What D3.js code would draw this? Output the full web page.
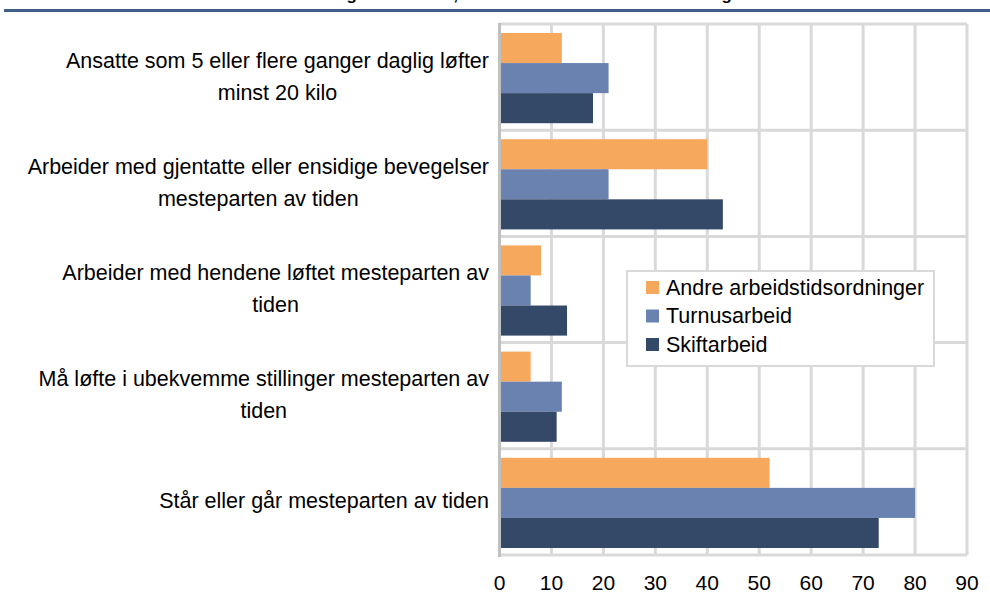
<!DOCTYPE html>
<meta charset="utf-8">
<title>Belastninger etter arbeidstidsordning</title>
<script src="https://cdn.jsdelivr.net/npm/d3@7"></script>
<style>
    body { margin: 0; background: #fff; }
    svg { display: block; font-family: Arial, "Liberation Sans", sans-serif; }
</style>
<body>
<script>
    // categories, top to bottom, lines as in the original wrapping
    var categories = [
        ["Ansatte som 5 eller flere ganger daglig løfter", "minst 20 kilo"],
        ["Arbeider med gjentatte eller ensidige bevegelser", "mesteparten av tiden"],
        ["Arbeider med hendene løftet mesteparten av", "tiden"],
        ["Må løfte i ubekvemme stillinger mesteparten av", "tiden"],
        ["Står eller går mesteparten av tiden"]
    ];
    var seriesNames = ["Andre arbeidstidsordninger", "Turnusarbeid", "Skiftarbeid"];
    var andre  = [12, 40, 8, 6, 52];
    var turnus = [21, 21, 6, 12, 80];
    var skift  = [18, 43, 13, 11, 73];
    var ticks = [0, 10, 20, 30, 40, 50, 60, 70, 80, 90];
    var colors = ["#f6a95d", "#6a82b0", "#344868"];

    var W = 990, H = 596;
    var svg = d3.select("body").append("svg").attr("width", W).attr("height", H);

    // title runs off the top edge in the original, only the descenders show
    svg.append("text")
        .attr("x", 270).attr("y", -0.5)
        .attr("font-size", 17).attr("font-weight", "bold")
        .text("Belastninger i arbeidet, etter ansattes arbeidstidsordning");
    svg.append("rect").attr("x", 4).attr("y", 9).attr("width", W - 4).attr("height", 3)
        .attr("fill", "#3f5e88");

    var keys = categories.map(function (c, i) { return i; });
    var x = d3.scaleLinear().domain([0, 90]).range([499.5, 967]);
    var y = d3.scaleBand().domain(keys).range([24, 555]);
    var sub = d3.scaleBand().domain(d3.range(3)).range([9, y.bandwidth() - 7]);

    var grid = svg.append("g");
    // horizontal grid lines at band edges
    grid.selectAll("line.h")
        .data(keys.concat([keys.length]))
        .enter().append("line")
        .attr("x1", x(0)).attr("x2", x(90))
        .attr("y1", function (d) { return 24 + d * y.step(); })
        .attr("y2", function (d) { return 24 + d * y.step(); })
        .attr("stroke", "#d9d9d9").attr("stroke-width", 3);
    // vertical grid lines
    grid.selectAll("line.v")
        .data(ticks.slice(1))
        .enter().append("line")
        .attr("x1", function (d) { return x(d); }).attr("x2", function (d) { return x(d); })
        .attr("y1", 24).attr("y2", 555)
        .attr("stroke", "#d9d9d9").attr("stroke-width", 3);

    var data = [andre, turnus, skift];
    var groups = svg.selectAll("g.series")
        .data(data)
        .enter().append("g")
        .attr("fill", function (d, i) { return colors[i]; });
    groups.each(function (vals, s) {
        d3.select(this).selectAll("rect")
            .data(vals)
            .enter().append("rect")
            .attr("x", x(0) + 1.5)
            .attr("y", function (d, i) { return y(i) + sub(s); })
            .attr("height", sub.bandwidth())
            .attr("width", function (d) { return x(d) - x(0) - 1.5; });
    });

    // left axis line
    svg.append("line")
        .attr("x1", x(0)).attr("x2", x(0)).attr("y1", 23).attr("y2", 557)
        .attr("stroke", "#c0c0c0").attr("stroke-width", 3);

    // x tick labels
    svg.append("g").selectAll("text")
        .data(ticks)
        .enter().append("text")
        .attr("x", function (d) { return x(d); })
        .attr("y", 590)
        .attr("text-anchor", "middle")
        .attr("font-size", 21)
        .attr("fill", "#000")
        .text(function (d) { return d; });

    // category labels: block right aligned, lines centred within block
    var lab = svg.append("g").attr("font-size", 21.5).attr("fill", "#000");
    categories.forEach(function (lines, i) {
        var g = lab.append("g");
        var cy = y(i) + y.bandwidth() / 2 - 1;
        var lh = 32;
        var t = g.selectAll("text").data(lines).enter().append("text")
            .attr("y", function (d, j) { return cy + (j - (lines.length - 1) / 2) * lh + 7.5; })
            .attr("text-anchor", "middle")
            .text(function (d) { return d; });
        var maxW = d3.max(t.nodes(), function (n) { return n.getComputedTextLength(); });
        t.attr("x", 489 - maxW / 2);
    });

    // legend
    var leg = svg.append("g");
    leg.append("rect").attr("x", 627).attr("y", 271).attr("width", 307).attr("height", 95)
        .attr("fill", "#fff").attr("stroke", "#d9d9d9").attr("stroke-width", 2);
    var items = leg.selectAll("g.item").data(seriesNames).enter().append("g")
        .attr("transform", function (d, i) { return "translate(0," + (287 + i * 28.5) + ")"; });
    items.append("rect").attr("x", 646).attr("y", -6).attr("width", 13).attr("height", 13)
        .attr("fill", function (d, i) { return colors[i]; });
    items.append("text").attr("x", 666).attr("y", 7.5).attr("font-size", 21.5)
        .text(function (d) { return d; });
</script>
</body>
